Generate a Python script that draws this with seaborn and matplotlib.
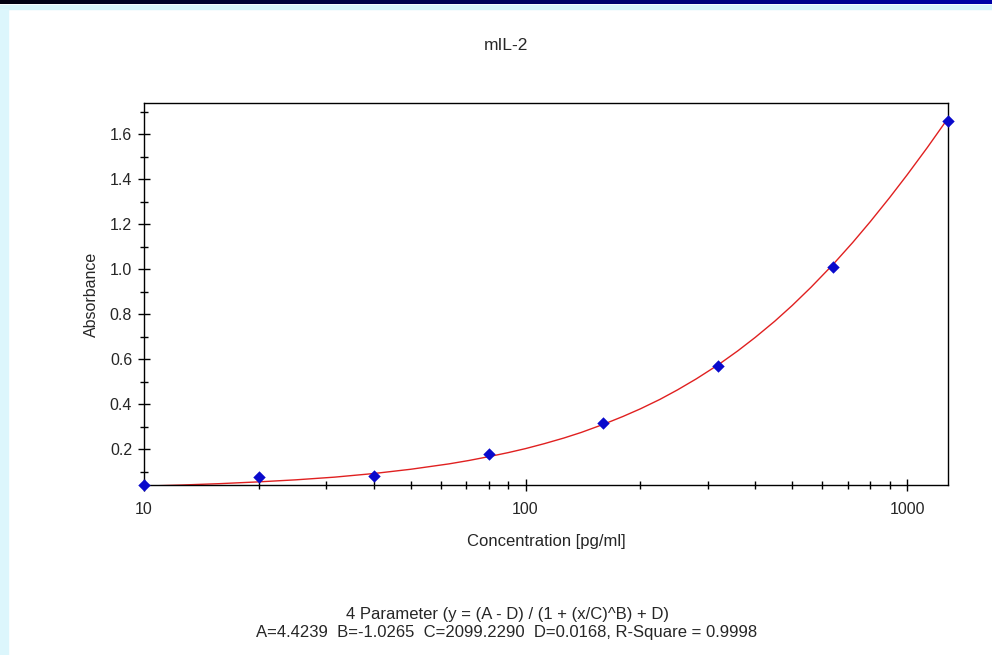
import numpy as np
import pandas as pd
import matplotlib
matplotlib.use("Agg")
import matplotlib.pyplot as plt
from matplotlib.patches import Rectangle
from matplotlib.ticker import FixedLocator, NullFormatter
import seaborn as sns

# Standards
conc = [10, 20, 40, 80, 160, 320, 640, 1280]
absorb = [0.040, 0.076, 0.078, 0.178, 0.315, 0.570, 1.010, 1.660]

# Fitted 4PL curve
curve_x = [10, 12.6, 15.8, 20, 25, 31.6, 40, 50, 63, 71, 80, 90, 100, 112,
           126, 140, 160, 180, 200, 225, 250, 280, 320, 360, 400, 450, 500,
           560, 640, 720, 800, 900, 1000, 1130, 1280]
curve_y = [0.035, 0.040, 0.046, 0.054, 0.063, 0.075, 0.091, 0.110, 0.134,
           0.149, 0.166, 0.184, 0.202, 0.224, 0.249, 0.274, 0.310, 0.345,
           0.379, 0.421, 0.463, 0.512, 0.575, 0.637, 0.697, 0.769, 0.839,
           0.920, 1.022, 1.119, 1.211, 1.319, 1.420, 1.542, 1.672]

title = "mIL-2"
fit_line1 = "4 Parameter (y = (A - D) / (1 + (x/C)^B) + D)"
fit_line2 = "A=4.4239  B=-1.0265  C=2099.2290  D=0.0168, R-Square = 0.9998"

sns.set_style("white")
plt.rcParams["font.family"] = ["Liberation Sans", "DejaVu Sans"]

df_pts = pd.DataFrame({"conc": conc, "abs": absorb})
df_fit = pd.DataFrame({"conc": curve_x, "abs": curve_y})

fig = plt.figure(figsize=(9.92, 6.55), dpi=100)
fig.patch.set_facecolor("white")

# window frame decorations
grad = fig.add_axes([0, 1 - 4/655, 1, 4/655])
grad.imshow(np.linspace(0, 1, 256)[None, :], aspect="auto",
            cmap=matplotlib.colors.LinearSegmentedColormap.from_list("g", ["#000010", "#0000a8"]))
grad.axis("off")
fig.patches.append(Rectangle((0, 1 - 9/655), 1, 4/655, transform=fig.transFigure,
                             color="#d6f4fb", zorder=0))
fig.patches.append(Rectangle((0, 0), 8/992, 1 - 9/655, transform=fig.transFigure,
                             color="#dcf6fc", zorder=0))

ax = fig.add_axes([144/992, 1 - 485/655, (948 - 144)/992, (485 - 103)/655])
sns.lineplot(data=df_fit, x="conc", y="abs", color="#e02020", linewidth=1.0, ax=ax)
sns.scatterplot(data=df_pts, x="conc", y="abs", marker="D", s=40, color="#0a0acc",
                edgecolor="#0a0acc", linewidth=0, ax=ax, zorder=5, clip_on=False)

ax.set_xscale("log")
ax.set_xlim(10, 1280)
ax.set_ylim(0.04, 1.74)
ax.xaxis.set_major_locator(FixedLocator([10, 100, 1000]))
ax.set_xticklabels(["10", "100", "1000"])
minors = [m * d for d in (10, 100) for m in range(2, 10)]
ax.xaxis.set_minor_locator(FixedLocator(minors))
ax.xaxis.set_minor_formatter(NullFormatter())
ax.yaxis.set_major_locator(FixedLocator([0.2, 0.4, 0.6, 0.8, 1.0, 1.2, 1.4, 1.6]))
ax.set_yticklabels(["0.2", "0.4", "0.6", "0.8", "1.0", "1.2", "1.4", "1.6"])
ax.yaxis.set_minor_locator(FixedLocator([0.1, 0.3, 0.5, 0.7, 0.9, 1.1, 1.3, 1.5, 1.7]))

ax.tick_params(axis="both", which="both", bottom=True, left=True, top=False, right=False)
ax.tick_params(axis="both", which="major", direction="inout", length=9, width=1,
               labelsize=11.5, color="black", pad=4)
ax.tick_params(axis="both", which="minor", direction="inout", length=6, width=1, color="black")
ax.tick_params(axis="x", which="major", pad=8)
for sp in ax.spines.values():
    sp.set_color("black")
    sp.set_linewidth(1.0)

ax.set_xlabel("Concentration [pg/ml]", fontsize=12, labelpad=12)
ax.set_ylabel("Absorbance", fontsize=11.5, labelpad=8)
fig.text(506/992, 1 - 45/655, title, ha="center", va="center", fontsize=12.5)
fig.text(507/992, 1 - 614/655, fit_line1, ha="center", va="center", fontsize=12)
fig.text(507/992, 1 - 633/655, fit_line2, ha="center", va="center", fontsize=12)

fig.savefig("out.png", dpi=100)
